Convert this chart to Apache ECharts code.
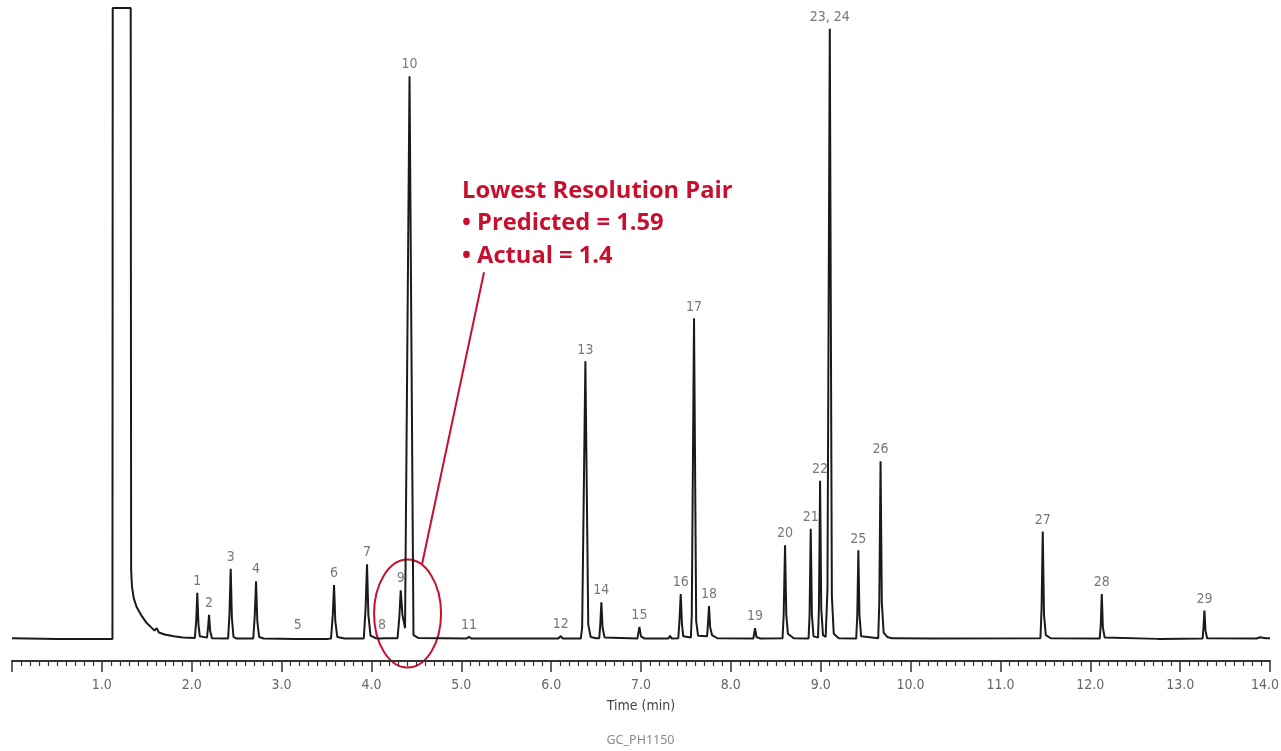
<!DOCTYPE html>
<html>
<head>
<meta charset="utf-8">
<script src="https://cdn.jsdelivr.net/npm/echarts/dist/echarts.min.js"></script>
<style>
  html, body {margin: 0; padding: 0; background: #fff; overflow: hidden;}
  #main {width: 1281px; height: 751px;}
</style>
</head>
<body>
<div id="main"></div>
<script>
// detector trace, [time (min), signal]; solvent peak is clipped at 100
const trace = [
    [0, 0.3], [0.5, 0.2], [1.118, 0.2],
    [1.121, 100], [1.321, 100], [1.326, 11], [1.335, 8.5], [1.355, 6.6], [1.388, 5.2], [1.436, 4.0], [1.499, 2.7],
    [1.558, 1.9], [1.585, 1.5], [1.61, 1.9], [1.635, 1.2], [1.7, 0.9], [1.8, 0.6], [1.9, 0.4], [2.035, 0.35],
    [2.05, 3], [2.062, 7.5], [2.075, 2.5], [2.09, 0.6],                          // 1
    [2.17, 0.4], [2.182, 2], [2.193, 4.0], [2.205, 1.5], [2.225, 0.3],           // 2
    [2.405, 0.25], [2.42, 4], [2.434, 11.3], [2.447, 3.5], [2.465, 0.5], [2.5, 0.25], // 3
    [2.685, 0.25], [2.702, 4], [2.716, 9.3], [2.73, 3], [2.75, 0.5], [2.8, 0.25], // 4
    [3.16, 0.2], [3.18, 0.45], [3.2, 0.2],                                        // 5
    [3.48, 0.2], [3.50, 0.4], [3.52, 0.2],
    [3.55, 0.25], [3.57, 4], [3.584, 8.7], [3.598, 3], [3.62, 0.5], [3.7, 0.25],  // 6
    [3.915, 0.25], [3.935, 5], [3.951, 12.0], [3.966, 4], [3.99, 0.7], [4.05, 0.3], // 7
    [4.10, 0.25], [4.118, 0.45], [4.14, 0.3],                                     // 8
    [4.29, 0.3], [4.31, 3.5], [4.326, 7.9], [4.345, 4], [4.374, 1.9],             // 9
    [4.424, 89.2], [4.468, 0.8], [4.52, 0.35],                                    // 10
    [5.06, 0.25], [5.086, 0.55], [5.11, 0.25],                                    // 11
    [6.08, 0.25], [6.107, 0.65], [6.13, 0.25],                                    // 12
    [6.33, 0.25], [6.345, 2], [6.381, 44.1], [6.413, 2.5], [6.44, 0.5], [6.5, 0.3], // 13
    [6.535, 0.3], [6.547, 2.5], [6.559, 6.0], [6.572, 2], [6.595, 0.4],          // 14
    [6.96, 0.25], [6.982, 2.1], [7.0, 0.6], [7.04, 0.25],                        // 15
    [7.305, 0.25], [7.323, 0.7], [7.34, 0.25],
    [7.415, 0.3], [7.428, 3], [7.442, 7.3], [7.456, 2.5], [7.47, 0.6],           // 16
    [7.555, 0.4], [7.565, 4], [7.59, 50.9], [7.614, 3], [7.635, 0.7],            // 17
    [7.735, 0.6], [7.745, 2.5], [7.757, 5.4], [7.77, 2], [7.79, 0.8], [7.85, 0.3], // 18
    [8.25, 0.25], [8.269, 1.9], [8.285, 0.5], [8.33, 0.25],                      // 19
    [8.575, 0.3], [8.588, 4], [8.603, 15.0], [8.617, 4], [8.635, 1], [8.7, 0.3], // 20
    [8.865, 0.25], [8.876, 4], [8.889, 17.6], [8.902, 4], [8.92, 0.6],           // 21
    [8.97, 0.4], [8.98, 5], [8.993, 25.2], [9.006, 5], [9.025, 0.8],             // 22
    [9.055, 0.5], [9.075, 8], [9.101, 96.7], [9.124, 7], [9.145, 1], [9.2, 0.3], // 23, 24
    [9.395, 0.25], [9.407, 4], [9.419, 14.2], [9.431, 4], [9.45, 0.6],           // 25
    [9.64, 0.3], [9.652, 6], [9.666, 28.3], [9.68, 6], [9.70, 1.2], [9.74, 0.5], // 26
    [9.79, 0.3], [9.808, 0.6], [9.825, 0.3],
    [10.24, 0.25], [10.261, 0.45], [10.28, 0.25],
    [11.445, 0.3], [11.458, 5], [11.471, 17.2], [11.485, 4], [11.505, 0.8], [11.56, 0.3], // 27
    [12.105, 0.25], [12.117, 2.5], [12.128, 7.3], [12.14, 2], [12.16, 0.4],      // 28
    [12.75, 0.2], [12.766, 0.35], [12.78, 0.2],
    [13.25, 0.25], [13.26, 2], [13.27, 4.7], [13.282, 1.5], [13.30, 0.3],        // 29
    [13.85, 0.25], [13.889, 0.45], [13.95, 0.3], [14.0, 0.3]
];

const peakNames = ['1', '2', '3', '4', '5', '6', '7', '8', '9', '10', '11', '12', '13', '14', '15',
    '16', '17', '18', '19', '20', '21', '22', '23, 24', '25', '26', '27', '28', '29'];
const peakTimes = [2.062, 2.193, 2.434, 2.716, 3.180, 3.584, 3.951, 4.118, 4.326, 4.424, 5.086, 6.107, 6.381, 6.559, 6.982,
    7.442, 7.590, 7.757, 8.269, 8.603, 8.889, 8.993, 9.101, 9.419, 9.666, 11.471, 12.128, 13.270];
const peakHeights = [7.5, 4.0, 11.3, 9.3, 0.45, 8.7, 12.0, 0.45, 7.9, 89.2, 0.55, 0.65, 44.1, 6.0, 2.1,
    7.3, 50.9, 5.4, 1.9, 15.0, 17.6, 25.2, 96.7, 14.2, 28.3, 17.2, 7.3, 4.7];

const noteLines = ['Lowest Resolution Pair', '• Predicted = 1.59', '• Actual = 1.4'];

const labelFont = '"Liberation Sans Narrow", "DejaVu Sans Condensed", "Liberation Sans", sans-serif';
const red = '#c8102e';
const tickLabel = {color: '#666', fontSize: 14, fontFamily: labelFont};

const chartDom = document.getElementById('main');
const myChart = echarts.init(chartDom);

const option = {
    animation: false,
    backgroundColor: '#fff',
    grid: {
        left: 12,
        right: 11,
        top: 8,
        bottom: 90,
        outerBoundsMode: 'none'
    },
    xAxis: {
        type: 'value',
        min: 0,
        max: 14,
        interval: 1,
        name: 'Time (min)',
        nameLocation: 'middle',
        nameGap: 38,
        nameTextStyle: {color: '#444', fontSize: 14, fontFamily: labelFont},
        axisLine: {onZero: false, lineStyle: {color: '#333', width: 2}},
        axisTick: {show: true, length: 11, lineStyle: {color: '#333', width: 1.5}},
        minorTick: {show: true, splitNumber: 10, length: 5, lineStyle: {color: '#333', width: 1.2}},
        splitLine: {show: false},
        axisLabel: {
            ...tickLabel,
            margin: 17,
            // last label is nudged left so it stays inside the page
            formatter: v => v === 0 ? '' : (v === 14 ? '{e|' + v.toFixed(1) + '}' : v.toFixed(1)),
            rich: {e: {...tickLabel, padding: [0, 10, 0, 0]}}
        }
    },
    yAxis: {
        type: 'value',
        min: -3.3,
        max: 100,
        show: false
    },
    series: [
        {
            type: 'line',
            data: trace,
            showSymbol: false,
            clip: false,
            lineStyle: {color: '#1a1a1a', width: 2},
            silent: true
        },
        {
            type: 'scatter',
            data: peakNames.map((n, i) => ({name: n, value: [peakTimes[i], peakHeights[i]]})),
            symbolSize: 1,
            itemStyle: {color: 'rgba(0,0,0,0)'},
            silent: true,
            label: {
                show: true,
                position: 'top',
                distance: 4,
                formatter: p => p.name,
                color: '#555',
                fontSize: 14,
                fontFamily: labelFont
            }
        }
    ]
};

myChart.setOption(option);

// annotation: ellipse round peaks 9/10 and a leader line up to the note
const toPx = (t, v) => myChart.convertToPixel({gridIndex: 0}, [t, v]);
const c = toPx(4.402, 4.2);
const a = toPx(4.563, 12.0);
const b = toPx(5.253, 58.2);
myChart.setOption({
    graphic: [
        {
            type: 'text',
            left: 'center',
            top: 734,
            style: {text: 'GC_PH1150', fill: '#8a8a8a', fontSize: 12.5, fontFamily: '"Noto Sans", sans-serif'}
        },
        {
            type: 'ellipse',
            shape: {cx: c[0], cy: c[1], rx: 33.5, ry: 54},
            style: {fill: 'none', stroke: red, lineWidth: 2}
        },
        {
            type: 'line',
            shape: {x1: a[0], y1: a[1], x2: b[0], y2: b[1]},
            style: {stroke: red, lineWidth: 2}
        },
        {
            type: 'text',
            left: 462,
            top: 175,
            style: {
                text: noteLines.join('\n'),
                fill: red,
                fontSize: 23.7,
                fontWeight: 'bold',
                lineHeight: 32.5,
                fontFamily: '"Open Sans", sans-serif'
            }
        }
    ]
});
</script>
</body>
</html>
